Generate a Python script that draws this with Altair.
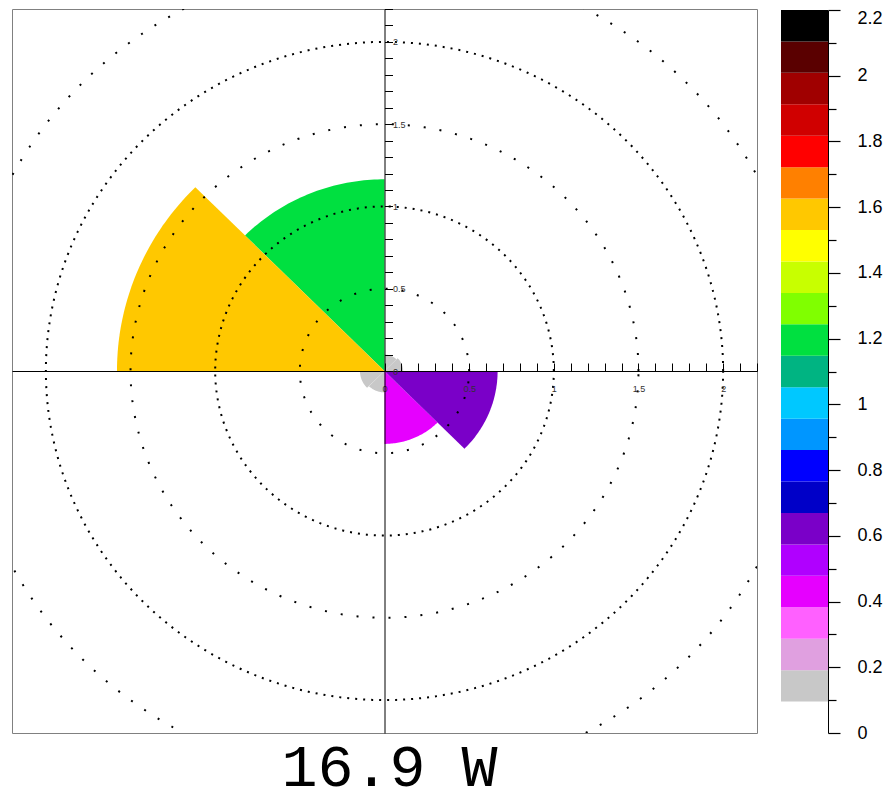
import altair as alt
import numpy as np
import pandas as pd

# ---- data -------------------------------------------------------------
sector_start = [0, 45, 90, 135, 180, 225, 270, 315]      # degrees, ccw from +x
sector_width = 45
sector_value = [0.11, 0.10, 1.165, 1.58, 0.145, 0.13, 0.443, 0.668]

ring_radii = [0.5, 1.0, 1.5, 2.0, 2.5]
ring_kind = ["half", "int", "half", "int", "half"]

palette = ["#ffffff", "#c8c8c8", "#e0a0e0", "#ff60ff", "#e600ff", "#b000ff",
           "#7a00c8", "#0000c8", "#0000ff", "#0096ff", "#00c8ff", "#00b482",
           "#00e040", "#80ff00", "#c8ff00", "#ffff00", "#ffc800", "#ff8000",
           "#ff0000", "#d00000", "#a00000", "#5a0000", "#000000"]
value_max = 2.2

axis_ticks = [0.0, 0.1, 0.2, 0.3, 0.4, 0.5, 0.6, 0.7, 0.8, 0.9, 1.0, 1.1,
              1.2, 1.3, 1.4, 1.5, 1.6, 1.7, 1.8, 1.9, 2.0, 2.1, 2.2]
axis_labels = [0, 0.5, 1, 1.5, 2]
title_text = "16.9 W"

# ---- geometry derived from the data -----------------------------------
rows = []
for k, (a0, v) in enumerate(zip(sector_start, sector_value)):
    angs = np.radians(np.linspace(a0, a0 + sector_width, 46))
    pts = [(0.0, 0.0)] + [(v * np.cos(a), v * np.sin(a)) for a in angs] + [(0.0, 0.0)]
    for i, (x, y) in enumerate(pts):
        rows.append(dict(sector=k, i=i, x=x, y=y, value=v))
wedges = pd.DataFrame(rows)

rrows = []
full = np.radians(np.arange(0, 361, 1))
for r, kind in zip(ring_radii, ring_kind):
    for i, a in enumerate(full):
        rrows.append(dict(ring=r, kind=kind, i=i, x=r * np.cos(a), y=r * np.sin(a)))
rings = pd.DataFrame(rrows)

edges = np.linspace(0, value_max, len(palette) + 1)
cbar = pd.DataFrame({"lo": edges[:-1], "hi": edges[1:], "color": palette})

# ---- chart --------------------------------------------------------------
xs = alt.Scale(domain=[-2.2, 2.2], nice=False, zero=False)
ys = alt.Scale(domain=[-2.2, 2.2], nice=False, zero=False)

half_test = "abs(datum.value*2 - round(datum.value*2)) < 0.01"
fifth_test = "abs(datum.value*5 - round(datum.value*5)) < 0.01"

wedge_layer = alt.Chart(wedges).mark_line(filled=True, strokeWidth=0).encode(
    x=alt.X("x:Q", scale=xs, axis=alt.Axis(
        orient="bottom", offset=-362, domain=False, ticks=False, grid=False,
        values=axis_labels, labelExpr="format(datum.value, '.1~f')",
        labelFontSize=9, labelColor="#333333", labelPadding=13, title=None, zindex=1)),
    y=alt.Y("y:Q", scale=ys, axis=None),
    color=alt.Color("value:Q", scale=alt.Scale(type="quantize", domain=[0, value_max],
                                               range=palette), legend=None),
    detail="sector:N",
    order="i:Q",
)

ring_layer = alt.Chart(rings).mark_line(clip=True, color="black", strokeWidth=2).encode(
    x=alt.X("x:Q", scale=xs, axis=alt.Axis(
        orient="top", offset=-362, values=axis_ticks, labels=False, tickSize=8,
        tickColor="black", domainColor="black", grid=False, title=None, zindex=1)),
    y=alt.Y("y:Q", scale=ys, axis=alt.Axis(
        orient="right", offset=-372.5, values=axis_ticks, tickSize=8,
        tickColor="black", domainColor="black", grid=False, title=None, zindex=1,
        labelExpr=f"{half_test} ? format(datum.value, '.1~f') : ''",
        labelFontSize=9, labelColor="#333333", labelPadding=0)),
    detail="ring:N",
    order="i:Q",
    strokeDash=alt.StrokeDash("kind:N", scale=alt.Scale(domain=["int", "half"],
                                                        range=[[2, 6], [2, 14]]), legend=None),
)

cbar_layer = alt.Chart(cbar).mark_rect().encode(
    x=alt.value(769), x2=alt.value(816),
    y=alt.Y("lo:Q", scale=alt.Scale(domain=[0, value_max], range=[724, 1], nice=False, zero=False),
            axis=alt.Axis(orient="right", offset=71, values=axis_ticks, grid=False, title=None,
                          tickColor="black", domainColor="black", tickWidth=1.2,
                          tickSize={"condition": {"test": fifth_test, "value": 12}, "value": 8},
                          labelOffset={"condition": {"test": "datum.value > 2.15", "value": 8},
                                       "value": 0},
                          labelExpr=f"{fifth_test} ? format(datum.value, '.1~f') : ''",
                          labelFontSize=18, labelColor="black", labelPadding=17)),
    y2="hi:Q",
    color=alt.Color("color:N", scale=None),
)

chart = alt.layer(wedge_layer, ring_layer, cbar_layer).resolve_scale(
    y="independent"
).resolve_axis(
    x="independent", y="independent"
).properties(
    width=745, height=724,
    title=alt.TitleParams(title_text, orient="bottom", anchor="middle", frame="group",
                          font="Liberation Mono", fontSize=60, fontWeight="normal",
                          color="black", offset=-3, dx=5),
    autosize=alt.AutoSizeParams(type="none"),
    padding={"left": 4, "top": 1, "right": 126, "bottom": 69},
).configure(
    font="Liberation Sans", background="white"
).configure_axis(
    labelFont="Liberation Sans"
).configure_view(
    stroke="#808080", strokeWidth=1
)

chart.save("out.html", embed_options={"renderer": "svg", "actions": False})
